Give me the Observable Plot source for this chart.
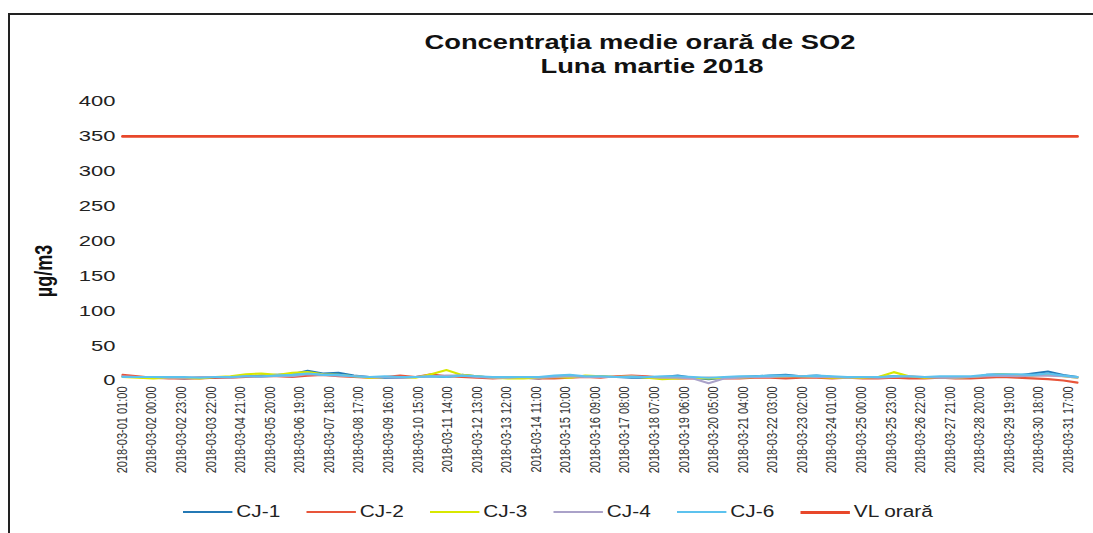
<!DOCTYPE html>
<html>
<head>
<meta charset="utf-8">
<script src="https://cdn.jsdelivr.net/npm/d3@7"></script>
<script src="https://cdn.jsdelivr.net/npm/@observablehq/plot@0.6"></script>
<style>
  html, body { margin: 0; padding: 0; background: #fff; }
  body { font-family: "Liberation Sans", Arial, sans-serif; }
  #wrap { position: relative; width: 1093px; height: 533px; overflow: hidden; background: #fff; }
  #frame { position: absolute; left: 8px; top: 13px; width: 1100px; height: 540px;
           border-left: 2px solid #222; border-top: 2px solid #222; }
  .tl { position: absolute; white-space: nowrap; font-weight: bold; font-size: 19.5px;
        line-height: 24px; color: #111; transform: translateX(-50%) scaleX(1.4); }
  #t1 { left: 640px; top: 30px; }
  #t2 { left: 652px; top: 54px; }
  #ylab { position: absolute; left: 45px; top: 271px; transform: translate(-50%, -50%) rotate(-90deg) scaleY(1.3);
          font-weight: bold; font-size: 18px; color: #111; white-space: nowrap; }
  #chart { position: absolute; left: 0; top: 0; }
  #legend { position: absolute; top: 503px; left: 183px; display: flex; align-items: center;
            font-size: 16px; color: #222; transform-origin: 0 50%; transform: scaleX(1.3); white-space: nowrap; }
  .item { display: flex; align-items: center; width: 95px; flex: none; }
  .sw { width: 38px; height: 0; margin-right: 3px; flex: none; }
</style>
</head>
<body>
<div id="wrap">
  <div id="frame"></div>
  <div id="chart"></div>
  <div class="tl" id="t1">Concentrația medie orară de SO2</div>
  <div class="tl" id="t2">Luna martie 2018</div>
  <div id="ylab">µg/m3</div>
  <div id="legend"></div>
</div>
<script>
// Series names and colours
const seriesNames = ["CJ-1", "CJ-2", "CJ-3", "CJ-4", "CJ-6"];
const seriesColors = ["#2479b5", "#e8553a", "#d8e800", "#aaa2c9", "#5cc2ee"];
const limitName = "VL orară";
const limitColor = "#e8472a";
const limitValue = 350;

// Values read every 12 hours (µg/m3), starting 2018-03-01 01:00
const cj1 = [6,5, 4,4, 3,4, 4,5, 6,7, 8,9, 14,10, 11,7, 5,4, 4,5, 6,5, 8,6, 4,4, 4,3, 6,7, 5,6, 5,4, 4,5, 7,4, 2,4, 5,6, 7,8, 6,7, 5,4, 4,5, 6,5, 4,5, 5,4, 8,9, 7,10, 13,8, 5];
const cj2 = [8,6, 4,3, 3,3, 4,4, 5,6, 6,5, 7,8, 6,5, 4,5, 7,5, 9,6, 5,4, 3,4, 4,3, 3,4, 5,4, 6,7, 6,4, 3,3, 4,3, 3,4, 4,3, 4,4, 3,4, 3,3, 4,3, 3,4, 3,3, 4,5, 4,3, 2,0, -3];
const cj3 = [5,4, 3,4, 4,3, 5,6, 9,10, 8,11, 12,9, 8,6, 4,5, 5,4, 9,15, 8,6, 4,3, 3,4, 5,4, 7,6, 5,6, 4,2, 3,4, 3,4, 4,5, 5,6, 6,5, 4,4, 4,5, 12,6, 4,5, 4,5, 7,9, 8,7, 9,6, 4];
const cj4 = [6,5, 5,4, 4,5, 5,4, 6,5, 7,6, 9,8, 7,6, 5,5, 4,5, 6,7, 7,5, 4,4, 5,4, 5,6, 5,5, 5,6, 5,4, 4,3, -4,3, 4,5, 5,6, 6,5, 5,4, 5,4, 5,6, 5,4, 4,5, 6,7, 6,7, 7,6, 4];
const cj6 = [5,5, 5,5, 5,4, 5,5, 6,6, 7,8, 10,8, 8,6, 5,6, 5,5, 6,5, 7,6, 5,5, 5,5, 7,8, 6,6, 5,5, 5,6, 6,5, 4,5, 6,6, 7,7, 6,7, 6,5, 5,5, 6,6, 5,6, 6,6, 8,9, 9,8, 10,7, 5];
const seriesValues = [cj1, cj2, cj3, cj4, cj6];

// Axis ticks
const yTicks = [0, 50, 100, 150, 200, 250, 300, 350, 400];
const hoursInMonth = 744;
const tickStepHours = 23;
const startUTC = Date.UTC(2018, 2, 1, 1, 0);

const fmt = d3.utcFormat("%Y-%m-%d %H:%M");
const xTicks = d3.range(0, hoursInMonth, tickStepHours);

const rows = [];
seriesNames.forEach((name, s) => {
  seriesValues[s].forEach((v, i) => {
    rows.push({series: name, hour: Math.min(i * 12, hoursInMonth - 1), value: v});
  });
});
const limitRows = [
  {series: limitName, hour: 0, value: limitValue},
  {series: limitName, hour: hoursInMonth - 1, value: limitValue}
];

const chart = Plot.plot({
  width: 1093,
  height: 490,
  marginLeft: 122,
  marginRight: 16,
  marginTop: 101,
  marginBottom: 110,
  style: {fontFamily: "'Liberation Sans', Arial, sans-serif", background: "transparent"},
  x: {domain: [0, hoursInMonth - 1]},
  y: {domain: [0, 400]},
  color: {domain: [...seriesNames, limitName], range: [...seriesColors, limitColor]},
  marks: [
    Plot.axisY({ticks: yTicks, tickSize: 0, tickPadding: 7, fontSize: 15.5, fill: "#222", label: null}),
    Plot.axisX({ticks: xTicks, tickSize: 0, tickPadding: 6, tickRotate: -90,
                tickFormat: h => fmt(new Date(startUTC + h * 3600e3)),
                fontSize: 11, fill: "#333", label: null}),
    Plot.line(rows, {x: "hour", y: "value", z: "series", stroke: "series", strokeWidth: 2.1, clip: false}),
    Plot.line(limitRows, {x: "hour", y: "value", stroke: "series", strokeWidth: 2.8})
  ]
});
document.getElementById("chart").appendChild(chart);

// Horizontal stretch of the scanned glyphs
chart.querySelectorAll('g[aria-label="y-axis tick label"] text').forEach(t => {
  const tr = t.getAttribute("transform") || "";
  t.setAttribute("transform", tr + " scale(1.42,1)");
});
chart.querySelectorAll('g[aria-label="x-axis tick label"] text').forEach(t => {
  const tr = t.getAttribute("transform") || "";
  t.setAttribute("transform", tr + " scale(1,1.25)");
});

// Legend
const legend = document.getElementById("legend");
[...seriesNames, limitName].forEach((name, i) => {
  const color = i < seriesNames.length ? seriesColors[i] : limitColor;
  const item = document.createElement("div");
  item.className = "item";
  const sw = document.createElement("div");
  sw.className = "sw";
  sw.style.borderTop = (i < seriesNames.length ? 2.5 : 3) + "px solid " + color;
  const lab = document.createElement("span");
  lab.textContent = name;
  item.appendChild(sw);
  item.appendChild(lab);
  legend.appendChild(item);
});
</script>
</body>
</html>
